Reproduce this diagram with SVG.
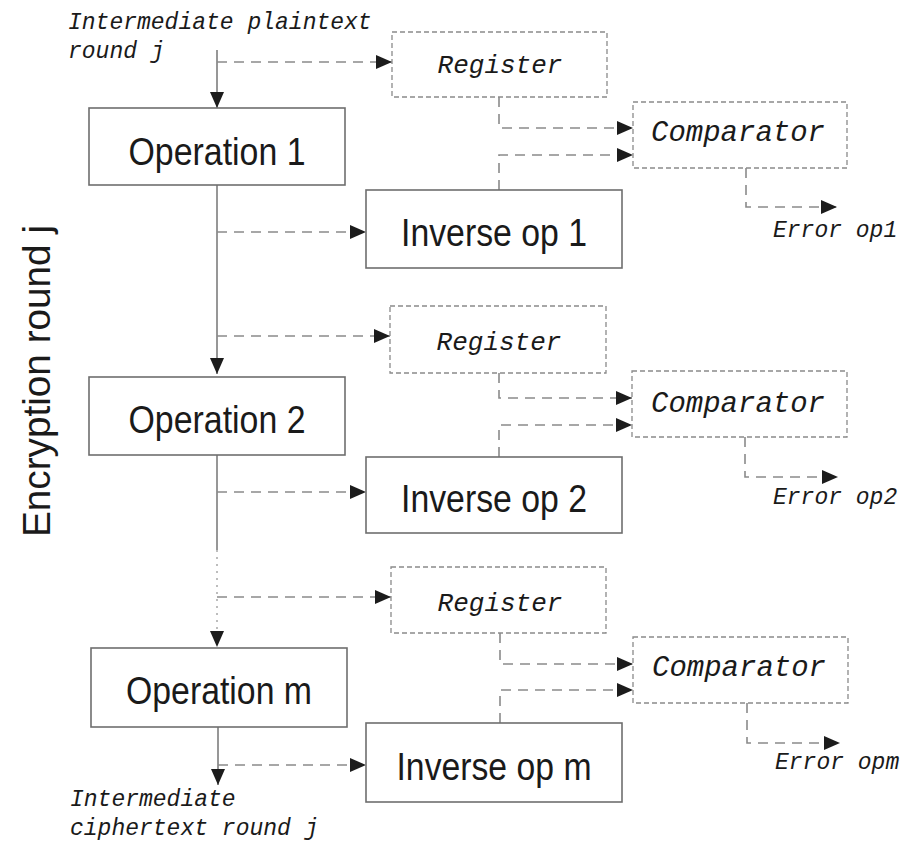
<svg xmlns="http://www.w3.org/2000/svg" width="905" height="843" viewBox="0 0 905 843">
  <defs>
    <marker id="arrow" viewBox="0 0 16 14" refX="16" refY="7" markerWidth="16" markerHeight="14" markerUnits="userSpaceOnUse" orient="auto">
      <path d="M0,0 L16,7 L0,14 z" fill="#1c1c1c"/>
    </marker>
    <style>
      .op { fill: #ffffff; stroke: #6e6e6e; stroke-width: 1.6; }
      .reg { fill: #ffffff; stroke: #8a8a8a; stroke-width: 1.3; stroke-dasharray: 5 3; }
      .flow { fill: none; stroke: #747474; stroke-width: 1.5; }
      .dot { fill: none; stroke: #a8a8a8; stroke-width: 1.5; stroke-dasharray: 2 5; }
      .tap { fill: none; stroke: #8a8a8a; stroke-width: 1.6; stroke-dasharray: 10 7; }
      .sans { font-family: "Liberation Sans", Arial, sans-serif; font-size: 38px; fill: #1a1a1a; }
      .mono { font-family: "Liberation Mono", "Courier New", monospace; font-style: italic; fill: #1a1a1a; }
    </style>
  </defs>

  <rect x="0" y="0" width="905" height="843" fill="#ffffff"/>

  <!-- side label -->
  <text class="sans" font-size="37" text-anchor="middle" textLength="312" lengthAdjust="spacingAndGlyphs" transform="translate(50,381) rotate(-90)">Encryption round j</text>

  <!-- input / output labels -->
  <g id="input-label">
    <text class="mono" font-size="23" x="68" y="29">Intermediate plaintext</text>
    <text class="mono" font-size="23" x="68" y="58">round j</text>
  </g>
  <g id="output-label">
    <text class="mono" font-size="23" x="70" y="806">Intermediate</text>
    <text class="mono" font-size="23" x="70" y="835">ciphertext round j</text>
  </g>

  <!-- connectors -->
  <g id="connectors">
    <!-- main data path -->
    <path class="flow" d="M217,50 V108" marker-end="url(#arrow)"/>
    <path class="flow" d="M217,185 V374" marker-end="url(#arrow)"/>
    <path class="flow" d="M217,455 V550"/>
    <path class="dot" d="M217,550 V647" marker-end="url(#arrow)"/>
    <path class="flow" d="M218,727 V785" marker-end="url(#arrow)"/>

    <!-- taps into registers and inverse operations -->
    <path class="tap" d="M217,62 H392" marker-end="url(#arrow)"/>
    <path class="tap" d="M217,232 H366" marker-end="url(#arrow)"/>
    <path class="tap" d="M217,336 H390" marker-end="url(#arrow)"/>
    <path class="tap" d="M217,492 H366" marker-end="url(#arrow)"/>
    <path class="tap" d="M217,597 H391" marker-end="url(#arrow)"/>
    <path class="tap" d="M218,765 H366" marker-end="url(#arrow)"/>

    <!-- register / inverse into comparator -->
    <path class="tap" d="M499,97 V128 H633" marker-end="url(#arrow)"/>
    <path class="tap" d="M499,190 V155 H633" marker-end="url(#arrow)"/>
    <path class="tap" d="M499,373 V398 H632" marker-end="url(#arrow)"/>
    <path class="tap" d="M499,457 V425 H632" marker-end="url(#arrow)"/>
    <path class="tap" d="M500,633 V664 H633" marker-end="url(#arrow)"/>
    <path class="tap" d="M500,723 V690 H633" marker-end="url(#arrow)"/>

    <!-- comparator error outputs -->
    <path class="tap" d="M746,168 V207 H837" marker-end="url(#arrow)"/>
    <path class="tap" d="M745,437 V477 H838" marker-end="url(#arrow)"/>
    <path class="tap" d="M747,703 V743 H840" marker-end="url(#arrow)"/>
  </g>

  <!-- stage 1 -->
  <g id="operation-1">
    <rect class="op" x="89" y="108" width="256" height="77"/>
    <text class="sans" x="217" y="165" text-anchor="middle" textLength="177" lengthAdjust="spacingAndGlyphs">Operation 1</text>
  </g>
  <g id="register-1">
    <rect class="reg" x="392" y="32" width="215" height="65"/>
    <text class="mono" font-size="26" x="500" y="73" text-anchor="middle">Register</text>
  </g>
  <g id="inverse-1">
    <rect class="op" x="366" y="190" width="256" height="78"/>
    <text class="sans" x="494" y="246" text-anchor="middle" textLength="186" lengthAdjust="spacingAndGlyphs">Inverse op 1</text>
  </g>
  <g id="comparator-1">
    <rect class="reg" x="633" y="102" width="214" height="66"/>
    <text class="mono" font-size="29" x="738" y="141" text-anchor="middle">Comparator</text>
  </g>
  <g id="error-1">
    <text class="mono" font-size="23" x="773" y="237">Error op1</text>
  </g>

  <!-- stage 2 -->
  <g id="operation-2">
    <rect class="op" x="89" y="377" width="256" height="78"/>
    <text class="sans" x="217" y="433" text-anchor="middle" textLength="177" lengthAdjust="spacingAndGlyphs">Operation 2</text>
  </g>
  <g id="register-2">
    <rect class="reg" x="390" y="306" width="216" height="67"/>
    <text class="mono" font-size="26" x="499" y="350" text-anchor="middle">Register</text>
  </g>
  <g id="inverse-2">
    <rect class="op" x="366" y="457" width="256" height="76"/>
    <text class="sans" x="494" y="512" text-anchor="middle" textLength="186" lengthAdjust="spacingAndGlyphs">Inverse op 2</text>
  </g>
  <g id="comparator-2">
    <rect class="reg" x="632" y="371" width="215" height="66"/>
    <text class="mono" font-size="29" x="738" y="412" text-anchor="middle">Comparator</text>
  </g>
  <g id="error-2">
    <text class="mono" font-size="23" x="773" y="504">Error op2</text>
  </g>

  <!-- stage m -->
  <g id="operation-m">
    <rect class="op" x="91" y="648" width="256" height="79"/>
    <text class="sans" x="219" y="704" text-anchor="middle" textLength="186" lengthAdjust="spacingAndGlyphs">Operation m</text>
  </g>
  <g id="register-m">
    <rect class="reg" x="391" y="567" width="215" height="66"/>
    <text class="mono" font-size="26" x="500" y="611" text-anchor="middle">Register</text>
  </g>
  <g id="inverse-m">
    <rect class="op" x="366" y="723" width="256" height="79"/>
    <text class="sans" x="494" y="780" text-anchor="middle" textLength="195" lengthAdjust="spacingAndGlyphs">Inverse op m</text>
  </g>
  <g id="comparator-m">
    <rect class="reg" x="633" y="637" width="215" height="66"/>
    <text class="mono" font-size="29" x="739" y="676" text-anchor="middle">Comparator</text>
  </g>
  <g id="error-m">
    <text class="mono" font-size="23" x="775" y="769">Error opm</text>
  </g>
</svg>
